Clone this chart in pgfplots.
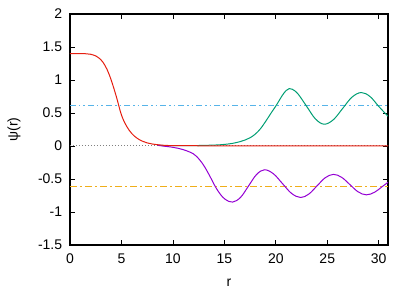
\documentclass[border=0pt]{standalone}
\usepackage{fontspec}
\setmainfont{Liberation Sans}
\usepackage{pgfplots}
\pgfplotsset{compat=1.18}
\definecolor{gpred}{HTML}{E51E10}
\definecolor{gpgreen}{HTML}{009E73}
\definecolor{gppurple}{HTML}{9400D3}
\definecolor{gpblue}{HTML}{56B4E9}
\definecolor{gporange}{HTML}{F0AE1A}
\begin{document}
\fontsize{14}{16}\selectfont
\begin{tikzpicture}
\begin{axis}[
  scale only axis, width=318pt, height=231pt,
  xmin=0, xmax=30.9, ymin=-1.5, ymax=2,
  xtick={0,5,...,30}, ytick={-1.5,-1,...,2},
  tick align=inside, major tick length=5pt,
  tick style={black, line width=0.8pt},
  axis line style={line width=1.6pt},
  /pgf/number format/assume math mode=true,
  /pgf/number format/fixed,
  xticklabel style={yshift=-4pt},
  yticklabel style={xshift=-3pt},
  xlabel={r}, ylabel={ψ(r)},
  xlabel style={yshift=-6pt},
  ylabel style={yshift=8pt},
  clip=true,
]
\addplot[gray, dotted, line width=1pt] coordinates {(0,0) (30.9,0)};
\addplot[gpblue, line width=1pt, dash pattern=on 6pt off 3pt on 1.5pt off 3pt on 1.5pt off 3pt] coordinates {(0,0.615) (30.9,0.615)};
\addplot[gporange, line width=1pt, dash pattern=on 7pt off 3pt on 2pt off 3pt] coordinates {(0,-0.61) (30.9,-0.61)};
\addplot[gpgreen, line width=1pt, smooth, tension=0.6] coordinates {
(8.5,0.01) (10,0.004) (12,0.006) (14,0.014) (15,0.024) (15.8,0.04) (16.5,0.065) (17,0.09) (17.5,0.125) (18,0.18) (18.5,0.26) (19,0.37) (19.5,0.49) (20.1,0.63) (20.6,0.76) (21.0,0.84) (21.3,0.87) (21.6,0.86) (22.15,0.79) (23.0,0.60) (23.85,0.41) (24.7,0.33) (25.6,0.40) (26.5,0.57) (27.4,0.74) (28.3,0.81) (29.15,0.75) (30.0,0.60) (30.9,0.45)};
\addplot[gppurple, line width=1pt, smooth, tension=0.6] coordinates {
(8.5,0.012) (9,0.0) (10,-0.02) (11,-0.055) (12,-0.12) (12.6,-0.21) (13.1,-0.32) (13.6,-0.46) (14.1,-0.61) (14.6,-0.73) (15.1,-0.81) (15.8,-0.85) (16.575,-0.778) (17.35,-0.605) (18.125,-0.432) (18.9,-0.36) (19.775,-0.422) (20.65,-0.57) (21.525,-0.718) (22.4,-0.78) (23.2,-0.729) (24.0,-0.605) (24.8,-0.481) (25.6,-0.43) (26.4,-0.475) (27.2,-0.585) (28.0,-0.695) (28.8,-0.74) (29.6,-0.70) (30.3,-0.62) (30.9,-0.55)};
\addplot[gpred, line width=1pt, smooth, tension=0.6] coordinates {
(0,1.40) (1,1.40) (1.5,1.398) (2,1.39) (2.5,1.365) (2.8,1.335) (3.2,1.27) (3.6,1.16) (4,1.0) (4.5,0.75) (5,0.47) (5.5,0.30) (6,0.19) (6.5,0.12) (7,0.075) (7.5,0.047) (8,0.03) (9,0.012) (10,0.006) (12,0.004) (15,0.003) (20,0.003) (25,0.002) (30.9,0.002)};
\end{axis}
\path ([shift={(-70pt,-46pt)}]current axis.south west) rectangle ([shift={(27pt,14pt)}]current axis.north east);
\end{tikzpicture}
\end{document}
